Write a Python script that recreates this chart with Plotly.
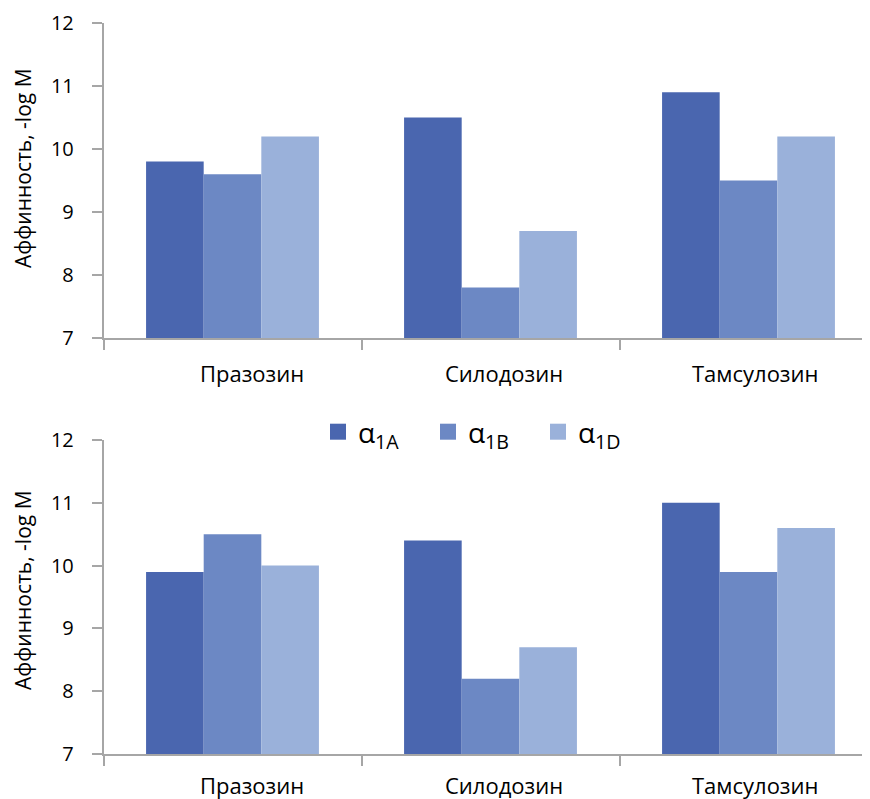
import plotly.graph_objects as go
from plotly.subplots import make_subplots

categories = ["Празозин", "Силодозин", "Тамсулозин"]
series_names = ["α<sub>1A</sub>", "α<sub>1B</sub>", "α<sub>1D</sub>"]
top_a1a = [9.8, 10.5, 10.9]
top_a1b = [9.6, 7.8, 9.5]
top_a1d = [10.2, 8.7, 10.2]
bot_a1a = [9.9, 10.4, 11.0]
bot_a1b = [10.5, 8.2, 9.9]
bot_a1d = [10.0, 8.7, 10.6]
y_ticks = [7, 8, 9, 10, 11, 12]
y_title = "Аффинность, -log M"

colors = ["#4A66AF", "#6C88C4", "#9AB1DA"]
label_xshift = [19, 13, 6]  # category labels sit slightly right of their groups
FONT = "Open Sans"
OFF = 8  # page body margin
W, H = 870 - OFF, 799 - OFF
AX_LEFT = 103.5


def px_x(x):
    return (x - OFF) / W


def px_y(y):
    return 1 - (y - OFF) / H


fig = make_subplots(rows=2, cols=1)

top = [top_a1a, top_a1b, top_a1d]
bot = [bot_a1a, bot_a1b, bot_a1d]
for i in range(3):
    fig.add_trace(go.Bar(x=categories, y=top[i], name=series_names[i],
                         marker=dict(color=colors[i], line=dict(width=0)),
                         showlegend=False), row=1, col=1)
    fig.add_trace(go.Bar(x=categories, y=bot[i], name=series_names[i],
                         marker=dict(color=colors[i], line=dict(width=0)),
                         showlegend=False), row=2, col=1)
# legend entries
for i in range(3):
    fig.add_trace(go.Scatter(x=[None], y=[None], mode="markers", name=series_names[i],
                             marker=dict(symbol="square", size=16, color=colors[i]),
                             showlegend=True), row=1, col=1)

axis_color = "#A6A6A6"
cat_px = 258.0
x_range = [-0.5, -0.5 + (870 - AX_LEFT) / cat_px]

common_x = dict(range=x_range, showline=True, linecolor=axis_color, linewidth=1.5,
                ticks="outside", tickson="boundaries", ticklen=10, tickcolor=axis_color,
                tickwidth=1.5, showgrid=False, zeroline=False, automargin=False,
                showticklabels=False, domain=[px_x(AX_LEFT), 1.0])
common_y = dict(range=[7, 12], tickvals=y_ticks, showline=True, linecolor=axis_color,
                linewidth=1.5, ticks="outside", ticklen=10, tickcolor=axis_color,
                tickwidth=1.5, showgrid=False, zeroline=False, automargin=False,
                ticklabelstandoff=14,
                tickfont=dict(family=FONT, size=20, color="#000"))

fig.update_xaxes(**common_x)
fig.update_yaxes(**common_y)
fig.update_yaxes(domain=[px_y(338), px_y(23)], row=1, col=1)
fig.update_yaxes(domain=[px_y(754), px_y(440)], row=2, col=1)

annotations = [
    dict(text=y_title, x=px_x(23), y=px_y(168), xref="paper", yref="paper",
         textangle=-90, showarrow=False, xanchor="center", yanchor="middle",
         font=dict(family=FONT, size=21, color="#000")),
    dict(text=y_title, x=px_x(23), y=px_y(590), xref="paper", yref="paper",
         textangle=-90, showarrow=False, xanchor="center", yanchor="middle",
         font=dict(family=FONT, size=21, color="#000")),
]
for xref, yref, ysh in (("x", "y", -18), ("x2", "y2", -14)):
    for cat, dx in zip(categories, label_xshift):
        annotations.append(dict(text=cat, x=cat, y=7, xref=xref, yref=yref,
                                showarrow=False, xanchor="center", yanchor="top",
                                xshift=dx, yshift=ysh,
                                font=dict(family=FONT, size=22, color="#000")))

fig.update_layout(
    width=W, height=H,
    margin=dict(l=0, r=0, t=0, b=0, autoexpand=False),
    paper_bgcolor="white", plot_bgcolor="white",
    barmode="group", bargap=0.33, bargroupgap=0,
    font=dict(family=FONT, color="#000"),
    legend=dict(orientation="h", x=px_x(318), xanchor="left", y=px_y(432), yanchor="middle",
                font=dict(family=FONT, size=28, color="#000"),
                entrywidth=65, entrywidthmode="pixels", bgcolor="rgba(0,0,0,0)",
                itemclick=False),
    annotations=annotations,
)

fig.write_html("out.html")
